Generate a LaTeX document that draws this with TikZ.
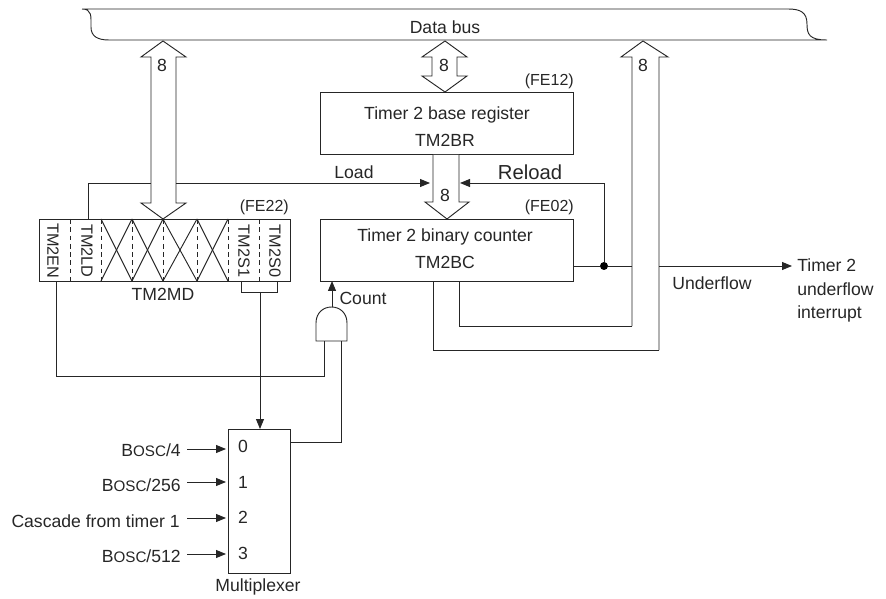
\documentclass[tikz,border=0pt]{standalone}
\usepackage{fontspec}
\setmainfont{Liberation Sans}
\usetikzlibrary{arrows.meta,calc}
\newcommand{\wsz}{\fontsize{13.2}{15}\selectfont}
\newcommand{\bosc}{B{\fontsize{11.4}{15}\selectfont OSC}}
\tikzset{
  x=0.75pt,y=-0.75pt,
  lin/.style={line width=0.7pt,draw=black!85},
  txt/.style={inner sep=0pt,font=\wsz,text=black!85},
  addr/.style={txt,font=\fontsize{12}{14}\selectfont},
  cell/.style={txt,font=\fontsize{12.2}{14}\selectfont},
  bigtxt/.style={txt,font=\fontsize{15.2}{17}\selectfont},
  regbox/.style={lin,anchor=north west,inner sep=0pt},
  sig/.style={lin,-{Triangle[length=7.5pt,width=6pt]}},
  divider/.style={lin,dash pattern=on 3.6pt off 2.6pt},
  dotn/.style={circle,fill=black,draw=none,minimum size=6pt,inner sep=0pt},
}
\begin{document}
\begin{tikzpicture}
\useasboundingbox (0,0) rectangle (886,599);
% data bus
\draw[lin] (82,9) -- (788,9) .. controls (800,9) and (807,12) .. (807,24) .. controls (807,34) and (809,40) .. (827,40) -- (109,40)
      .. controls (97,40) and (91,36) .. (91,27) .. controls (91,16) and (92,9) .. (82,9);
\node[txt] (busl) at (445,27) {Data bus};
% boxes
\node[regbox,minimum width=253*0.75pt,minimum height=62.5*0.75pt] (br) at (320,92) {};
\node[txt] at (447,115) {Timer 2 base register};
\node[txt] at (445,140) {TM2BR};
\node[regbox,minimum width=253*0.75pt,minimum height=62*0.75pt] (bc) at (320,219) {};
\node[txt] at (445,237) {Timer 2 binary counter};
\node[txt] at (445,262) {TM2BC};
\node[regbox,minimum width=251*0.75pt,minimum height=62*0.75pt] (md) at (39,219) {};
\node[regbox,minimum width=62*0.75pt,minimum height=144*0.75pt] (mux) at (228,429) {};
% address labels
\node[addr,anchor=east] (fe12) at (574,81) {(FE12)};
\node[addr,anchor=east] (fe02) at (574,207) {(FE02)};
\node[addr,anchor=east] (fe22) at (289,207) {(FE22)};
% register cells
\foreach \xx in {70,101,132,163,197,228,259}
  \draw[divider] (\xx,219) -- (\xx,281);
\foreach \a/\b in {101/132,132/163,163/197,197/228}{
  \draw[lin] (\a,219) -- (\b,281);
  \draw[lin] (\b,219) -- (\a,281);
}
\node[cell,rotate=-90] (en) at (53,251) {TM2EN};
\node[cell,rotate=-90] (ld) at (87,251) {TM2LD};
\node[cell,rotate=-90] (s1) at (244,251) {TM2S1};
\node[cell,rotate=-90] (s0) at (275,251) {TM2S0};
\node[txt] at (163,294) {TM2MD};
% wide arrows
\draw[lin,fill=white] (163,41) -- (186,57) -- (176,57) -- (176,203) -- (186,203) -- (163,219) -- (141,203) -- (151,203) -- (151,57) -- (141,57) -- cycle;
\node[txt] at (162,65) {8};
\draw[lin,fill=white] (445,41) -- (467,57) -- (457,57) -- (457,76) -- (467,76) -- (445,92) -- (422,76) -- (432,76) -- (432,57) -- (422,57) -- cycle;
\node[txt] at (444,65) {8};
\draw[lin,fill=white] (433,155) -- (433,202) -- (425,202) -- (447,219) -- (469,202) -- (459,202) -- (459,155);
\node[txt] at (445,195) {8};
\draw[lin] (632,326) -- (632,57) -- (621,57) -- (643,41) -- (668,57) -- (659,57) -- (659,350);
\node[txt] at (643,65) {8};
\coordinate (wl) at (632,326);
\coordinate (wr) at (659,350);
\draw[lin] (wl) -- (wl -| 459,0) -- (459,281);
\draw[lin] (wr) -- (wr -| 433,0) -- (433,281);
% load / reload
\coordinate (ldup) at (88,183);
\draw[lin] (88,219) -- (ldup) -- (151,183);
\draw[sig] (176,183) -- (430,183);
\node[txt] at (354,172) {Load};
\node[dotn] (dot) at (604,266) {};
\coordinate (relc) at (604,183);
\draw[sig] (dot) -- (relc) -- (460,183);
\node[bigtxt] at (530,172) {Reload};
\draw[lin] (573,266) -- (dot) -- (632,266);
\coordinate (ufe) at (792,266);
\draw[sig] (659,266) -- (ufe);
\node[txt] at (712,283) {Underflow};
\node[txt,anchor=west] at (797,265) {Timer 2};
\node[txt,anchor=west] at (797,289) {underflow};
\node[txt,anchor=west] at (797,314) {interrupt};
% and gate
\draw[lin] (316,341) -- (316,323) .. controls (316,313) and (323,307) .. (331.5,307) .. controls (340,307) and (347,313) .. (347,323) -- (347,341) -- cycle;
\coordinate (andout) at (332,307);
\draw[sig] (andout) -- (332,281);
\node[txt] at (363,298) {Count};
% gate inputs
\draw[lin] (324,341) -- (324,376) -- (56,376) -- (56,281);
\draw[lin] (341,341) -- (341,442) -- (290,442);
% select bracket
\draw[lin] (241,281) -- (241,292) -- (277,292) -- (277,281);
\draw[sig] (260,292) -- (260,429);
% mux
\node[txt] at (243,446) {0};
\node[txt] at (243,482) {1};
\node[txt] at (243,517) {2};
\node[txt] at (243,553) {3};
\node[txt] at (258,587) {Multiplexer};
\node[txt,anchor=east] (i0) at (181,450) {\bosc/4};
\node[txt,anchor=east] (i1) at (181,485) {\bosc/256};
\node[txt,anchor=east] (i2) at (180,521) {Cascade from timer 1};
\node[txt,anchor=east] (i3) at (181,556) {\bosc/512};
\draw[sig] (187,449) -- (226,449);
\draw[sig] (187,482) -- (226,482);
\draw[sig] (187,518) -- (226,518);
\draw[sig] (187,554) -- (226,554);
\end{tikzpicture}
\end{document}
